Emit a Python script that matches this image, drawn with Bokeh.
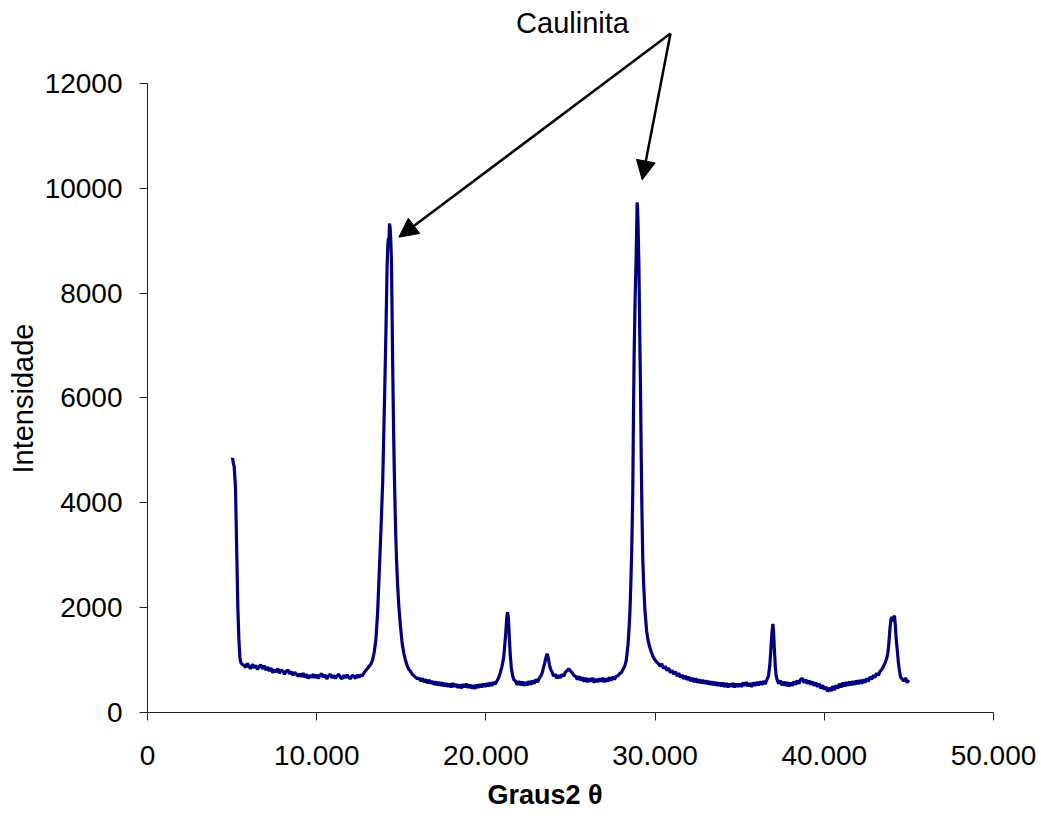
from bokeh.plotting import figure
from bokeh.models import Range1d, FixedTicker, Label, Arrow, NormalHead, ColumnDataSource, Title
from bokeh.embed import file_html
from bokeh.resources import INLINE

# ---- data (2-theta in degrees, intensity counts) ----
two_theta = [
    5.00, 5.03, 5.07, 5.12, 5.20, 5.26, 5.34, 5.40, 5.46, 5.52,
    5.60, 5.70, 5.80, 5.90, 6.00, 6.10, 6.20, 6.30, 6.40, 6.50,
    6.60, 6.70, 6.80, 6.90, 7.00, 7.10, 7.20, 7.30, 7.40, 7.50,
    7.60, 7.70, 7.80, 7.90, 8.00, 8.10, 8.20, 8.30, 8.40, 8.50,
    8.60, 8.70, 8.80, 8.90, 9.00, 9.10, 9.20, 9.30, 9.40, 9.50,
    9.60, 9.70, 9.80, 9.90, 10.00, 10.10, 10.20, 10.30, 10.40, 10.50,
    10.60, 10.70, 10.80, 10.90, 11.00, 11.10, 11.20, 11.30, 11.40, 11.50,
    11.60, 11.70, 11.80, 11.90, 12.00, 12.10, 12.20, 12.30, 12.40, 12.50,
    12.60, 12.70, 12.80, 12.90, 13.00, 13.10, 13.20, 13.30, 13.40, 13.50,
    13.60, 13.70, 13.80, 13.90, 13.97, 14.03, 14.10, 14.16, 14.20, 14.24,
    14.27, 14.30, 14.34, 14.38, 14.42, 14.46, 14.50, 14.54, 14.58, 14.62,
    14.67, 14.72, 14.78, 14.85, 14.95, 15.05, 15.15, 15.25, 15.35, 15.45,
    15.55, 15.65, 15.75, 15.85, 15.95, 16.05, 16.15, 16.25, 16.35, 16.45,
    16.55, 16.65, 16.75, 16.85, 16.95, 17.05, 17.15, 17.25, 17.35, 17.45,
    17.55, 17.65, 17.75, 17.85, 17.95, 18.05, 18.15, 18.25, 18.35, 18.45,
    18.55, 18.65, 18.75, 18.85, 18.95, 19.05, 19.15, 19.25, 19.35, 19.45,
    19.55, 19.65, 19.75, 19.85, 19.95, 20.05, 20.15, 20.25, 20.35, 20.45,
    20.55, 20.65, 20.75, 20.85, 20.95, 21.05, 21.12, 21.18, 21.23, 21.28,
    21.33, 21.38, 21.44, 21.50, 21.58, 21.66, 21.75, 21.85, 21.95, 22.05,
    22.15, 22.25, 22.35, 22.45, 22.55, 22.65, 22.75, 22.85, 22.95, 23.05,
    23.15, 23.25, 23.33, 23.40, 23.48, 23.56, 23.62, 23.68, 23.75, 23.82,
    23.92, 24.00, 24.10, 24.20, 24.30, 24.40, 24.50, 24.60, 24.70, 24.80,
    24.90, 25.00, 25.10, 25.20, 25.30, 25.40, 25.50, 25.60, 25.70, 25.80,
    25.90, 26.00, 26.10, 26.20, 26.30, 26.40, 26.50, 26.60, 26.70, 26.80,
    26.90, 27.00, 27.10, 27.20, 27.30, 27.40, 27.50, 27.60, 27.70, 27.80,
    27.90, 28.00, 28.10, 28.20, 28.30, 28.40, 28.46, 28.51, 28.56, 28.62,
    28.68, 28.72, 28.76, 28.82, 28.88, 28.92, 28.94, 28.97, 29.00, 29.04,
    29.09, 29.14, 29.18, 29.22, 29.27, 29.33, 29.40, 29.50, 29.60, 29.70,
    29.80, 29.90, 30.00, 30.10, 30.20, 30.30, 30.40, 30.50, 30.60, 30.70,
    30.80, 30.90, 31.00, 31.10, 31.20, 31.30, 31.40, 31.50, 31.60, 31.70,
    31.80, 31.90, 32.00, 32.10, 32.20, 32.30, 32.40, 32.50, 32.60, 32.70,
    32.80, 32.90, 33.00, 33.10, 33.20, 33.30, 33.40, 33.50, 33.60, 33.70,
    33.80, 33.90, 34.00, 34.10, 34.20, 34.30, 34.40, 34.50, 34.60, 34.70,
    34.80, 34.90, 35.00, 35.10, 35.20, 35.30, 35.40, 35.50, 35.60, 35.70,
    35.80, 35.90, 36.00, 36.10, 36.20, 36.30, 36.40, 36.50, 36.60, 36.70,
    36.78, 36.84, 36.90, 36.96, 37.00, 37.05, 37.10, 37.15, 37.20, 37.30,
    37.40, 37.50, 37.60, 37.70, 37.80, 37.90, 38.00, 38.10, 38.20, 38.30,
    38.40, 38.50, 38.60, 38.70, 38.80, 38.90, 39.00, 39.10, 39.20, 39.30,
    39.40, 39.50, 39.60, 39.70, 39.80, 39.90, 40.00, 40.10, 40.20, 40.30,
    40.40, 40.50, 40.60, 40.70, 40.80, 40.90, 41.00, 41.10, 41.20, 41.30,
    41.40, 41.50, 41.60, 41.70, 41.80, 41.90, 42.00, 42.10, 42.20, 42.30,
    42.40, 42.50, 42.60, 42.70, 42.80, 42.90, 43.00, 43.10, 43.20, 43.30,
    43.40, 43.50, 43.60, 43.70, 43.76, 43.81, 43.88, 43.94, 44.01, 44.06,
    44.10, 44.15, 44.20, 44.25, 44.31, 44.38, 44.45, 44.50, 44.60, 44.70,
    44.80, 44.90, 45.00,
]

intensity = [
    4830, 4850, 4760, 4700, 4300, 3300, 2000, 1400, 1050, 950,
    920, 900, 860, 940, 870, 840, 920, 850, 900, 820,
    880, 910, 830, 890, 810, 870, 790, 850, 760, 820,
    770, 840, 750, 810, 790, 730, 790, 810, 740, 780,
    710, 770, 730, 690, 740, 680, 750, 670, 730, 650,
    710, 670, 730, 660, 720, 650, 710, 740, 670, 720,
    640, 700, 730, 660, 710, 650, 700, 730, 670, 640,
    710, 660, 720, 670, 640, 710, 690, 650, 720, 670,
    720, 700, 760, 800, 840, 880, 920, 1000, 1150, 1400,
    1900, 2700, 3500, 4400, 5400, 6300, 7400, 8500, 8900, 9050,
    8950, 9330, 9250, 9000, 8600, 7500, 6400, 5500, 4700, 4100,
    3400, 2900, 2450, 2050, 1650, 1320, 1130, 990, 890, 820,
    780, 730, 700, 670, 640, 660, 600, 650, 580, 630,
    560, 620, 550, 600, 530, 590, 520, 580, 510, 570,
    500, 560, 490, 550, 480, 560, 490, 540, 470, 530,
    460, 540, 480, 550, 470, 530, 460, 520, 450, 530,
    470, 540, 480, 550, 490, 560, 500, 570, 510, 580,
    540, 600, 660, 760, 880, 1050, 1300, 1550, 1800, 1915,
    1800, 1450, 1100, 860, 700, 620, 600, 530, 600, 520,
    590, 510, 580, 520, 600, 530, 610, 550, 630, 580,
    650, 700, 760, 850, 950, 1060, 1120, 1050, 920, 830,
    770, 690, 730, 650, 710, 660, 730, 690, 770, 800,
    835, 790, 760, 710, 690, 630, 690, 610, 670, 590,
    660, 580, 650, 590, 660, 570, 640, 580, 650, 590,
    660, 580, 650, 590, 670, 610, 680, 630, 690, 700,
    740, 760, 820, 880, 1000, 1300, 1600, 1900, 2400, 3100,
    4200, 5600, 6800, 7900, 8700, 9400, 9730, 9580, 9200, 8600,
    7300, 6100, 4900, 3900, 2950, 2400, 1950, 1550, 1350, 1230,
    1130, 1050, 1000, 960, 930, 880, 930, 840, 880, 800,
    850, 760, 810, 730, 780, 690, 750, 670, 720, 640,
    700, 620, 680, 600, 660, 580, 650, 570, 630, 560,
    620, 550, 610, 540, 600, 530, 590, 520, 580, 510,
    570, 500, 570, 490, 560, 480, 550, 490, 560, 480,
    550, 490, 550, 490, 570, 510, 580, 500, 560, 490,
    570, 510, 580, 520, 590, 530, 600, 540, 620, 700,
    900, 1200, 1500, 1690, 1550, 1200, 900, 720, 640, 550,
    610, 520, 590, 510, 580, 500, 570, 510, 590, 530,
    610, 550, 630, 650, 570, 630, 550, 610, 530, 590,
    510, 570, 490, 550, 460, 520, 440, 490, 400, 470,
    410, 500, 430, 520, 460, 550, 480, 570, 500, 580,
    510, 590, 520, 600, 530, 610, 540, 620, 550, 630,
    570, 650, 590, 680, 630, 710, 670, 750, 710, 790,
    820, 880, 950, 1050, 1150, 1300, 1600, 1780, 1820, 1740,
    1800, 1850, 1650, 1400, 1200, 950, 780, 680, 640, 600,
    660, 570, 620,
]

x_ticks = [0, 10000, 20000, 30000, 40000, 50000]
x_tick_labels = ["0", "10.000", "20.000", "30.000", "40.000", "50.000"]
y_ticks = [0, 2000, 4000, 6000, 8000, 10000, 12000]

x_title = "Graus2 \u03b8"
y_title = "Intensidade"
note_text = "Caulinita"

# annotation anchors (data units)
note_xy = (25118, 13163)
arrow_tail = (30910, 12953)
arrow_heads = [(14852, 9067), (29238, 10162)]

FONT = "Liberation Sans"

source = ColumnDataSource(data=dict(
    x=[t * 1000 for t in two_theta],
    y=intensity,
))

p = figure(
    width=1041, height=820,
    x_range=Range1d(0, 50000), y_range=Range1d(0, 13583),
    output_backend="svg", toolbar_location=None,
    min_border_left=147, min_border_right=48,
    min_border_top=0, min_border_bottom=108,
)
p.outline_line_color = None
p.xgrid.visible = False
p.ygrid.visible = False
p.background_fill_color = "white"
p.border_fill_color = "white"

p.line("x", "y", source=source, line_color="#000080", line_width=3.2)

for ax in (p.xaxis[0], p.yaxis[0]):
    ax.axis_line_color = "#222222"
    ax.major_tick_line_color = "#222222"
    ax.minor_tick_line_color = None
    ax.major_tick_in = 0
    ax.major_tick_out = 8
    ax.major_label_text_font = FONT
    ax.major_label_text_font_size = "28px"
    ax.major_label_text_color = "black"

p.xaxis.bounds = (0, 50000)
p.yaxis.bounds = (0, 12000)
p.xaxis.ticker = FixedTicker(ticks=x_ticks)
p.yaxis.ticker = FixedTicker(ticks=y_ticks)
p.xaxis.major_label_overrides = {t: s for t, s in zip(x_ticks, x_tick_labels)}
p.xaxis.major_label_standoff = 25
p.yaxis.major_label_standoff = 17

p.add_layout(Title(text=x_title, text_font=FONT, text_font_size="27px",
                   text_font_style="bold", text_color="black",
                   align="left", offset=340, standoff=20), "below")
p.add_layout(Title(text=y_title, text_font=FONT, text_font_size="29px",
                   text_font_style="normal", text_color="black",
                   align="left", offset=239, standoff=5), "left")
p.add_layout(Label(x=note_xy[0], y=note_xy[1], text=note_text, text_font=FONT,
                   text_font_size="29px", text_align="center",
                   text_baseline="middle", text_color="black"))

for hx, hy in arrow_heads:
    p.add_layout(Arrow(
        end=NormalHead(size=19, fill_color="black", line_color="black"),
        x_start=arrow_tail[0], y_start=arrow_tail[1], x_end=hx, y_end=hy,
        line_color="black", line_width=2.5,
    ))

open("out.html", "w").write(file_html(p, INLINE))
